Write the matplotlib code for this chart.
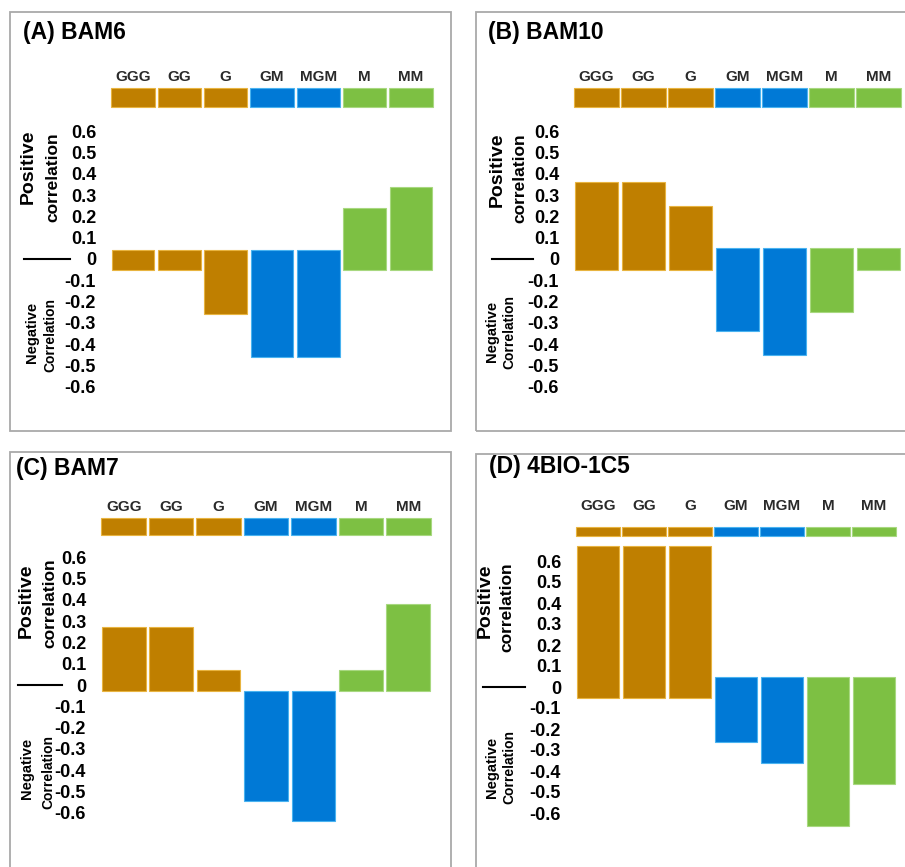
import matplotlib
matplotlib.use("Agg")
import matplotlib.pyplot as plt
from matplotlib.patches import Rectangle

plt.rcParams['font.family'] = ['Liberation Sans', 'DejaVu Sans']

# data
categories = ['GGG', 'GG', 'G', 'GM', 'MGM', 'M', 'MM']
group_colors = ['#bf7f00', '#bf7f00', '#bf7f00', '#0079d6', '#0079d6', '#7dc043', '#7dc043']
edge_colors = ['#e8b440', '#e8b440', '#e8b440', '#49b3f0', '#49b3f0', '#a8d880', '#a8d880']
y_ticks = [0.6, 0.5, 0.4, 0.3, 0.2, 0.1, 0, -0.1, -0.2, -0.3, -0.4, -0.5, -0.6]

titles = ['(A) BAM6', '(B) BAM10', '(C) BAM7', '(D) 4BIO-1C5']
bam6 = [-0.05, -0.05, -0.26, -0.46, -0.46, 0.24, 0.34]
bam10 = [0.36, 0.36, 0.25, -0.34, -0.45, -0.25, -0.05]
bam7 = [0.27, 0.27, 0.07, -0.545, -0.64, 0.07, 0.38]
bio1c5 = [0.67, 0.67, 0.67, -0.26, -0.36, -0.66, -0.46]
panel_values = [bam6, bam10, bam7, bio1c5]

W, H = 905, 867
fig = plt.figure(figsize=(W / 100, H / 100), dpi=100)


def fx(x):
    return x / W


def fy(y):
    return 1 - y / H


# layout per panel (pixels): box, bar span, zero line, px per unit, header, bar bases,
# and centres of the two-line rotated side labels
layouts = [
    dict(box=(10, 12, 451, 431), x0=110, x1=434, zero=259, scale=213,
         head=(0.714, 0.803, 0.854), pos_base=-0.05, neg_base=0.04,
         title=(23, 32), zline=(24, 70),
         pos_lab=[(28, 167), (53, 177)], neg_lab=[(32, 332), (50, 335)]),
    dict(box=(476, 12, 912, 431), x0=573, x1=902, zero=259, scale=213,
         head=(0.714, 0.803, 0.854), pos_base=-0.05, neg_base=0.05,
         title=(488, 32), zline=(492, 533),
         pos_lab=[(497, 170), (520, 178)], neg_lab=[(492, 331), (509, 332)]),
    dict(box=(10, 452, 451, 872), x0=100, x1=432, zero=685, scale=213,
         head=(0.704, 0.784, 0.836), pos_base=-0.03, neg_base=-0.03,
         title=(16, 468), zline=(18, 62),
         pos_lab=[(26, 601), (50, 603)], neg_lab=[(27, 768), (48, 772)]),
    dict(box=(476, 454, 912, 872), x0=575, x1=897, zero=687, scale=210,
         head=(0.72, 0.76, 0.86), pos_base=-0.05, neg_base=0.05,
         title=(489, 467), zline=(483, 525),
         pos_lab=[(485, 601), (507, 607)], neg_lab=[(492, 767), (509, 767)]),
]

y_top, y_bot = 0.95, -0.75
xs = list(range(len(categories)))

for title, values, lay in zip(titles, panel_values, layouts):
    bx0, by0, bx1, by1 = lay['box']
    fig.patches.append(Rectangle((fx(bx0), fy(by1)), fx(bx1 - bx0), (by1 - by0) / H,
                                 transform=fig.transFigure, fill=False,
                                 edgecolor='#a9a9a9', linewidth=1.3))

    top_px = lay['zero'] - y_top * lay['scale']
    bot_px = lay['zero'] - y_bot * lay['scale']
    ax = fig.add_axes([fx(lay['x0']), fy(bot_px), fx(lay['x1'] - lay['x0']),
                       (bot_px - top_px) / H])
    ax.set_xlim(-0.5, 6.5)
    ax.set_ylim(y_bot, y_top)

    # correlation bars: positive ones start a bit below zero, negative ones a bit above
    bottoms = [lay['pos_base'] if v > 0 else lay['neg_base'] for v in values]
    heights = [v - b for v, b in zip(values, bottoms)]
    ax.bar(xs, heights, bottom=bottoms, width=0.92, color=group_colors,
           edgecolor=edge_colors, linewidth=0.8)

    # coloured header strip with category names
    h0, h1, hl = lay['head']
    ax.bar(xs, h1 - h0, bottom=h0, width=0.94, color=group_colors,
           edgecolor=edge_colors, linewidth=0.8, clip_on=False)
    for x, c in zip(xs, categories):
        ax.text(x, hl, c, ha='center', va='center', fontsize=11,
                fontweight='bold', color='#2a2a2a')

    ax.set_yticks(y_ticks)
    ax.set_yticklabels(['0' if t == 0 else f'{t:.1f}' for t in y_ticks],
                       fontsize=13, fontweight='bold')
    ax.tick_params(axis='y', length=0, pad=10)
    ax.set_xticks([])
    for s in ax.spines.values():
        s.set_visible(False)
    ax.patch.set_alpha(0)

    fig.text(fx(lay['title'][0]), fy(lay['title'][1]), title, ha='left', va='center',
             fontsize=16.5, fontweight='bold')
    zx0, zx1 = lay['zline']
    fig.add_artist(plt.Line2D([fx(zx0), fx(zx1)], [fy(lay['zero']), fy(lay['zero'])],
                              color='black', linewidth=1.5))

    (p1x, p1y), (p2x, p2y) = lay['pos_lab']
    fig.text(fx(p1x), fy(p1y), 'Positive', rotation=90, ha='center', va='center',
             fontsize=14, fontweight='bold')
    fig.text(fx(p2x), fy(p2y), 'correlation', rotation=90, ha='center', va='center',
             fontsize=12.5, fontweight='bold')
    (n1x, n1y), (n2x, n2y) = lay['neg_lab']
    fig.text(fx(n1x), fy(n1y), 'Negative', rotation=90, ha='center', va='center',
             fontsize=10.5, fontweight='bold')
    fig.text(fx(n2x), fy(n2y), 'Correlation', rotation=90, ha='center', va='center',
             fontsize=10, fontweight='bold')

fig.savefig('out.png', dpi=100)
